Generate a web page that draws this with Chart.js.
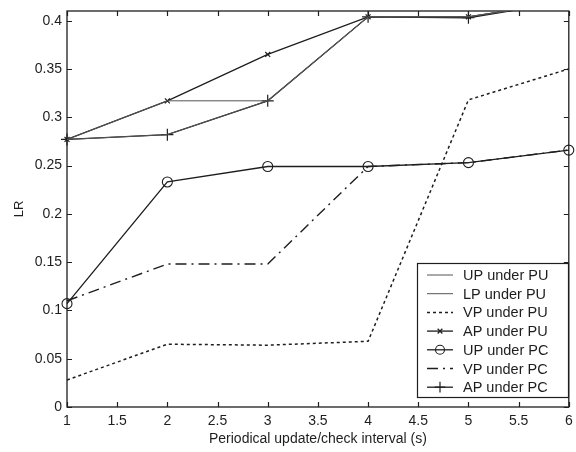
<!DOCTYPE html>
<html><head><meta charset="utf-8">
<script src="https://cdn.jsdelivr.net/npm/chart.js@4/dist/chart.umd.min.js"></script>
<style>html,body{margin:0;padding:0;background:#fff}#wrap{width:576px;height:452px}</style>
</head><body><div id="wrap"><canvas id="c" width="576" height="452"></canvas></div>
<script>
// ---- data ----
const intervals = [1, 2, 3, 4, 5, 6];
const seriesNames = ['UP under PU','LP under PU','VP under PU','AP under PU','UP under PC','VP under PC','AP under PC'];
const upUnderPU = [0.277, 0.317, 0.317, 0.404, 0.404, 0.420];
const lpUnderPU = [0.277, 0.282, 0.317, 0.404, 0.404, 0.420];
const vpUnderPU = [0.028, 0.065, 0.064, 0.068, 0.318, 0.350];
const apUnderPU = [0.277, 0.317, 0.365, 0.404, 0.404, 0.420];
const upUnderPC = [0.107, 0.233, 0.249, 0.249, 0.253, 0.266];
const vpUnderPC = [0.110, 0.148, 0.148, 0.249, 0.253, 0.266];
const apUnderPC = [0.277, 0.282, 0.317, 0.404, 0.403, 0.420];
const xTickValues = [1, 1.5, 2, 2.5, 3, 3.5, 4, 4.5, 5, 5.5, 6];
const yTickValues = [0, 0.05, 0.1, 0.15, 0.2, 0.25, 0.3, 0.35, 0.4];

const FONT = '"Liberation Sans", Arial, sans-serif';
const INK = '#1e1e1e';

function pts(arr){ return intervals.map((x,i)=>({x:x, y:arr[i]})); }
const clipBox = {left:10, right:10, top:0, bottom:10};
function ds(label, arr, o){
  return Object.assign({label:label, data:pts(arr), borderColor:INK, backgroundColor:'transparent',
    borderWidth:1.3, pointRadius:0, pointStyle:false, tension:0, clip:clipBox, borderDash:[]}, o||{});
}
const datasets = [
  ds(seriesNames[0], upUnderPU, {borderColor:'#555', borderWidth:1}),
  ds(seriesNames[1], lpUnderPU, {borderColor:'#555', borderWidth:1}),
  ds(seriesNames[2], vpUnderPU, {borderDash:[3,3], borderWidth:1.5}),
  ds(seriesNames[3], apUnderPU, {pointStyle:'crossRot', pointRadius:3.5, pointBorderColor:INK, pointBorderWidth:1.2}),
  ds(seriesNames[4], upUnderPC, {pointStyle:'circle', pointRadius:5, pointBorderColor:INK, pointBorderWidth:1.1, pointBackgroundColor:'rgba(0,0,0,0)'}),
  ds(seriesNames[5], vpUnderPC, {borderDash:[11,5,2,5], borderWidth:1.4}),
  ds(seriesNames[6], apUnderPC, {pointStyle:'cross', pointRadius:6, pointBorderColor:INK, pointBorderWidth:1.2})
];

function drawMarker(ctx, style, x, y, r){
  ctx.beginPath();
  if(style==='circle'){ ctx.arc(x,y,r,0,Math.PI*2); }
  else if(style==='cross'){ ctx.moveTo(x-r,y); ctx.lineTo(x+r,y); ctx.moveTo(x,y-r); ctx.lineTo(x,y+r); }
  else if(style==='crossRot'){ const d=r*0.75; ctx.moveTo(x-d,y-d); ctx.lineTo(x+d,y+d); ctx.moveTo(x-d,y+d); ctx.lineTo(x+d,y-d); }
  ctx.stroke();
}

const framePlugin = {
  id:'frame',
  beforeDatasetsDraw(chart){
    const {ctx, chartArea:a, scales} = chart;
    ctx.save();
    ctx.strokeStyle = INK; ctx.lineWidth = 1.3;
    ctx.strokeRect(a.left, a.top, a.right-a.left, a.bottom-a.top);
    ctx.lineWidth = 1.2;
    ctx.beginPath();
    xTickValues.forEach(v=>{
      const px = Math.round(scales.x.getPixelForValue(v))+0.5;
      ctx.moveTo(px,a.bottom); ctx.lineTo(px,a.bottom-5);
      ctx.moveTo(px,a.top); ctx.lineTo(px,a.top+5);
    });
    yTickValues.forEach(v=>{
      const py = Math.round(scales.y.getPixelForValue(v))+0.5;
      ctx.moveTo(a.left,py); ctx.lineTo(a.left+5,py);
      ctx.moveTo(a.right,py); ctx.lineTo(a.right-5,py);
    });
    ctx.stroke();
    ctx.restore();
  },
  afterDraw(chart){
    const ctx = chart.ctx;
    const bx=417, by=263, bw=151, bh=134;
    ctx.save();
    ctx.fillStyle='#fff'; ctx.fillRect(bx,by,bw,bh);
    ctx.strokeStyle=INK; ctx.lineWidth=1.2; ctx.strokeRect(bx+0.5,by+0.5,bw,bh);
    ctx.font = '14.5px '+FONT; ctx.textBaseline='middle'; ctx.textAlign='left';
    chart.data.datasets.forEach((d,i)=>{
      const y = by + 12 + i*18.7;
      ctx.strokeStyle = d.borderColor; ctx.lineWidth = d.borderWidth;
      ctx.setLineDash(d.borderDash||[]);
      ctx.beginPath(); ctx.moveTo(427,y); ctx.lineTo(453,y); ctx.stroke();
      ctx.setLineDash([]);
      if(d.pointStyle){ ctx.lineWidth=d.pointBorderWidth; ctx.strokeStyle=INK; drawMarker(ctx, d.pointStyle, 440, y, d.pointRadius*0.9); }
      ctx.fillStyle = INK;
      ctx.fillText(d.label, 463, y+1);
    });
    ctx.restore();
  }
};

new Chart(document.getElementById('c'), {
  type:'line',
  data:{datasets:datasets},
  plugins:[framePlugin],
  options:{
    responsive:false, animation:false, devicePixelRatio:1,
    layout:{padding:{left:0, right:0, top:11, bottom:0}},
    plugins:{legend:{display:false}, tooltip:{enabled:false}},
    scales:{
      x:{type:'linear', min:1, max:6,
        grid:{display:false, drawTicks:false}, border:{display:false},
        ticks:{stepSize:0.5, padding:6, color:INK, font:{family:FONT, size:14}, maxRotation:0,
          callback:v=>String(Number(v.toFixed(2)))},
        afterBuildTicks:s=>{ s.ticks = xTickValues.map(v=>({value:v})); },
        afterFit:s=>{ s.height = 45; s.paddingRight = 4; s.paddingLeft = 0; },
        title:{display:true, text:'Periodical update/check interval (s)', color:INK,
          font:{family:FONT, size:14}, padding:{top:0, bottom:4}}
      },
      y:{type:'linear', min:0, max:0.41,
        grid:{display:false, drawTicks:false}, border:{display:false},
        ticks:{stepSize:0.05, includeBounds:false, padding:5, color:INK, font:{family:FONT, size:14},
          callback:v=>String(Number(v.toFixed(2)))},
        afterBuildTicks:s=>{ s.ticks = yTickValues.map(v=>({value:v})); },
        afterFit:s=>{ s.width = 67; s.paddingTop = 0; s.paddingBottom = 0; },
        title:{display:true, text:'LR', color:INK, font:{family:FONT, size:13}, padding:{top:12, bottom:0}}
      }
    }
  }
});
</script>
</body></html>
